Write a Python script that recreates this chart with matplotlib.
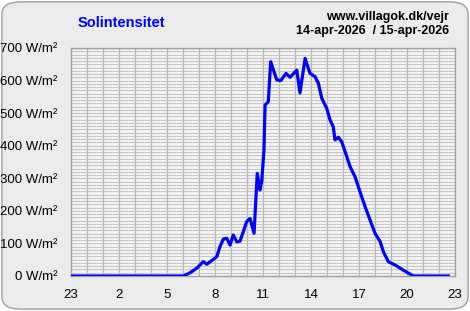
import matplotlib.pyplot as plt
from matplotlib.patches import FancyBboxPatch
import numpy as np

# hours since 23:00 on 14-apr, and solar intensity in W/m²
hours = [0.0, 7.02, 7.44, 7.86, 8.27, 8.48, 8.79, 9.11, 9.31, 9.52, 9.73, 9.94,
         10.14, 10.36, 10.56, 10.77, 10.98, 11.19, 11.44, 11.64, 11.81, 11.92,
         12.06, 12.13, 12.33, 12.48, 12.69, 12.86, 13.11, 13.44, 13.69, 14.11,
         14.31, 14.63, 14.94, 15.25, 15.46, 15.67, 15.98, 16.19, 16.39, 16.5,
         16.71, 16.92, 17.13, 17.44, 17.75, 18.06, 18.38, 18.69, 19.0, 19.31,
         19.52, 19.83, 20.25, 20.77, 21.19, 21.39, 23.58]
watts = [0, 0, 10, 24, 44, 36, 47, 59, 90, 113, 116, 95,
         126, 105, 107, 136, 167, 177, 131, 315, 264, 290,
         387, 525, 535, 658, 627, 602, 600, 622, 610, 632,
         562, 668, 622, 612, 592, 546, 515, 479, 458, 418,
         426, 412, 382, 336, 305, 259, 213, 172, 131, 107,
         75, 44, 34, 18, 6, 0, 0]

xtick_pos = [0, 3, 6, 9, 12, 15, 18, 21, 24]
xtick_labels = ["23", "2", "5", "8", "11", "14", "17", "20", "23"]
ytick_pos = [0, 100, 200, 300, 400, 500, 600, 700]
ytick_labels = [f"{v} W/m²" for v in ytick_pos]

plt.rcParams['font.family'] = ['Liberation Sans', 'DejaVu Sans']

fig = plt.figure(figsize=(4.7, 3.11), dpi=100)
fig.patch.set_facecolor("white")

# rounded panel behind everything
panel = FancyBboxPatch((0.004, 0.006), 0.992, 0.988,
                       boxstyle="round,pad=0,rounding_size=0.04",
                       transform=fig.transFigure, facecolor="#ebebeb",
                       edgecolor="#a0a0a0", linewidth=1.0, zorder=-10)
fig.patches.append(panel)

ax = fig.add_axes([71 / 470, 35 / 311, 384 / 470, 228 / 311])
ax.set_facecolor("#f2f2f2")

# grid: every hour vertically, every 10 W/m² horizontally
for h in range(1, 24):
    ax.axvline(h, color="#b4b4b4", linewidth=0.9, zorder=1)
for v in range(10, 700, 10):
    ax.axhline(v, color="#c4c4c4", linewidth=0.7, zorder=1)

ax.plot(hours, watts, color="#0000ff", linewidth=2.3, zorder=3,
        solid_joinstyle="round")

ax.set_xlim(0, 24)
ax.set_ylim(0, 700)
ax.set_xticks(xtick_pos)
ax.set_xticklabels(xtick_labels)
ax.set_yticks(ytick_pos)
ax.set_yticklabels(ytick_labels)
ax.tick_params(length=0, labelsize=9.5, colors="black")
ax.tick_params(axis="y", pad=10)
ax.tick_params(axis="x", pad=9)
for s in ax.spines.values():
    s.set_color("#a0a0a0")
    s.set_linewidth(1.0)

fig.text(121 / 470, 1 - 23 / 311, "Solintensitet", color="#0000ff",
         fontsize=10.5, fontweight="bold", ha="center", va="center")
fig.text(449 / 470, 1 - 17 / 311, "www.villagok.dk/vejr", color="black",
         fontsize=9, fontweight="bold", ha="right", va="center")
fig.text(449 / 470, 1 - 31 / 311, "14-apr-2026  / 15-apr-2026", color="black",
         fontsize=9, fontweight="bold", ha="right", va="center")

fig.savefig("out.png", dpi=100)
